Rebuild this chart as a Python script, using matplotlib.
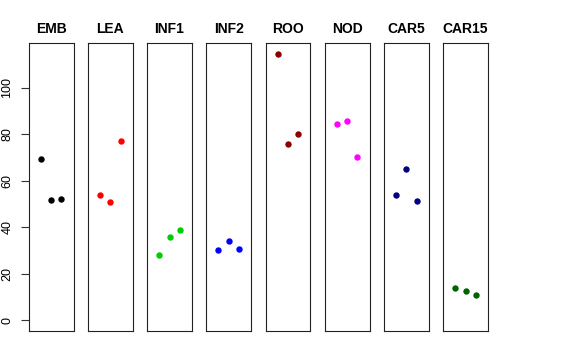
import matplotlib
matplotlib.use("Agg")
import matplotlib.pyplot as plt

plt.rcParams['font.family'] = ['Liberation Sans', 'DejaVu Sans']

tissues = ["EMB", "LEA", "INF1", "INF2", "ROO", "NOD", "CAR5", "CAR15"]
colors = ["black", "red", "#00CD00", "blue", "#8B0000", "magenta", "#000080", "#006400"]
reps = [1, 2, 3]

emb = [69.5, 51.7, 52.2]
lea = [53.9, 50.7, 77.0]
inf1 = [28.2, 35.9, 38.7]
inf2 = [30.4, 34.2, 30.8]
roo = [114.6, 75.9, 80.0]
nod = [84.3, 85.8, 70.3]
car5 = [54.0, 64.9, 51.4]
car15 = [13.9, 12.7, 10.7]
values = [emb, lea, inf1, inf2, roo, nod, car5, car15]

yticks = [0, 20, 40, 60, 80, 100]

W, H = 576., 360.
fig = plt.figure(figsize=(W/100, H/100), dpi=100)

ymax = max(max(v) for v in values)
for i in range(len(tissues)):
    left = 28.7 + i*59.2
    ax = fig.add_axes([left/W, (H-331)/H, 44.8/W, (331-43)/H])
    ax.plot(reps, values[i], 'o', color=colors[i], markersize=4.6, markeredgewidth=0)
    # R style: 4% padding around xlim=c(0,4), ylim=c(0,max)
    ax.set_xlim(-0.16, 4.16)
    ax.set_ylim(-0.04*ymax, 1.04*ymax)
    for s in ax.spines.values():
        s.set_linewidth(0.8)
        s.set_color("#222222")
    ax.set_xticks([])
    ax.set_title(tissues[i], fontsize=10, fontweight='bold', pad=7)
    if i == 0:
        ax.set_yticks(yticks)
        ax.tick_params(axis='y', length=5.5, width=0.8, pad=5.5, labelsize=9, color="#333333")
        for lab in ax.get_yticklabels():
            lab.set_rotation(90)
            lab.set_va('center')
    else:
        ax.set_yticks([])

fig.savefig("out.png", dpi=100)
